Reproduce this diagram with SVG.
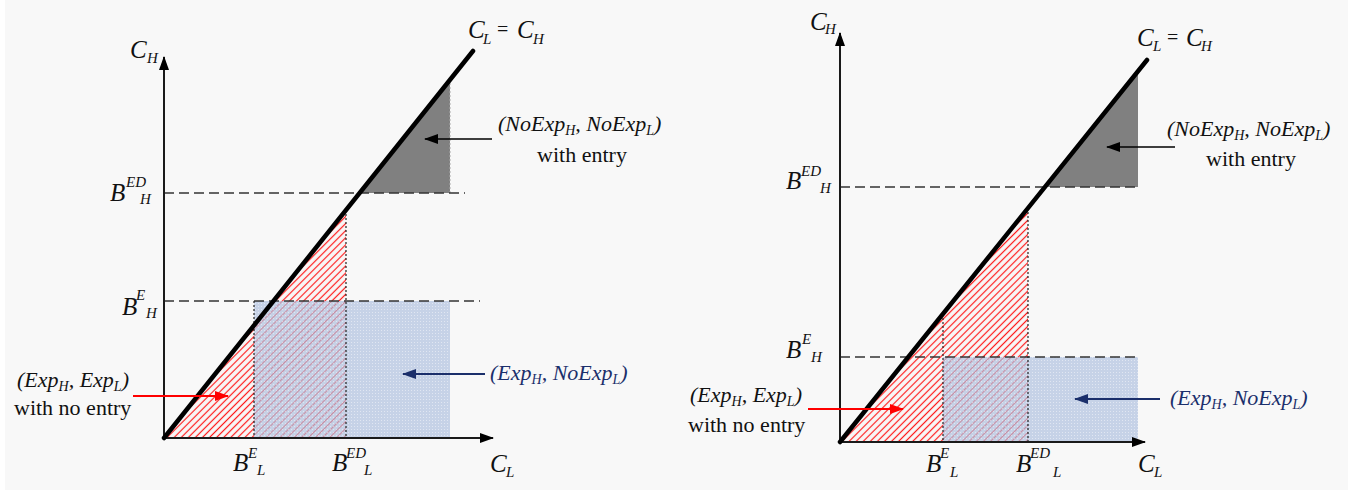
<svg xmlns="http://www.w3.org/2000/svg" width="1366" height="493" viewBox="0 0 1366 493">
<style>
text{font-family:"Liberation Serif","Times New Roman",Times,"DejaVu Serif",serif}
.m{font-style:italic;font-size:25px;fill:#111}
.ms{font-style:italic;font-size:15px;fill:#111}
.eq{font-size:20px;fill:#111}
.lab{font-style:italic;font-size:22px;fill:#111}
.blue{fill:#1b2f6b}
.plain{font-size:22px;fill:#111}
.axis{stroke:#1a1a1a;stroke-width:2;fill:none}
.diag{stroke:#000;stroke-width:4.5;stroke-linecap:round;fill:none}
.dash{stroke:#333;stroke-width:1.6;stroke-dasharray:10,5;fill:none}
.dot{stroke:#222;stroke-width:1.2;stroke-dasharray:2,2;fill:none}
.gray{fill:#808080}
.hatch{fill:url(#hatch)}
.bluebox{fill:#b0c2e0;fill-opacity:0.7}
.tex{fill:url(#dots)}
</style>
<defs>
<pattern id="hatch" patternUnits="userSpaceOnUse" width="5" height="10" patternTransform="rotate(45)">
<line x1="2.5" y1="0" x2="2.5" y2="10" stroke="#ff1a1a" stroke-width="1.2"/>
</pattern>
<pattern id="dots" patternUnits="userSpaceOnUse" width="3" height="3">
<rect x="0" y="0" width="1" height="1" fill="#ffffff" fill-opacity="0.45"/>
</pattern>
<marker id="ak" viewBox="0 0 14 10" refX="13" refY="5" markerWidth="14" markerHeight="10" markerUnits="userSpaceOnUse" orient="auto">
<path d="M0,0 L14,5 L0,10 Z" fill="#000"/>
</marker>
<marker id="ar" viewBox="0 0 14 10" refX="13" refY="5" markerWidth="14" markerHeight="10" markerUnits="userSpaceOnUse" orient="auto">
<path d="M0,0 L14,5 L0,10 Z" fill="#ff0000"/>
</marker>
<marker id="ab" viewBox="0 0 14 10" refX="13" refY="5" markerWidth="14" markerHeight="10" markerUnits="userSpaceOnUse" orient="auto">
<path d="M0,0 L14,5 L0,10 Z" fill="#1b2f6b"/>
</marker>
<marker id="ax" viewBox="0 0 14 10" refX="13" refY="5" markerWidth="14" markerHeight="10" markerUnits="userSpaceOnUse" orient="auto">
<path d="M0,0 L14,5 L0,10 Z" fill="#000"/>
</marker>
</defs>
<rect x="0" y="0" width="1366" height="493" fill="#ffffff"/>
<rect x="5" y="0" width="1343" height="490" fill="#f8f8f8"/>

<g id="left-chart">
<g id="left-regions">
<polygon class="hatch" points="164,438 346,209.6 346,438"/>
<rect class="bluebox" x="254" y="301" width="196" height="137"/>
<rect class="tex" x="254" y="301" width="196" height="137"/>
<polygon class="gray" points="359,193 450,193 450,79"/>
<line x1="450" y1="79" x2="450" y2="193" stroke="#aaa" stroke-width="1" stroke-dasharray="2,2"/>
</g>
<g id="left-guides">
<line class="dash" x1="164" y1="193" x2="465" y2="193"/>
<line class="dash" x1="164" y1="301" x2="480" y2="301"/>
<line class="dot" x1="254" y1="301" x2="254" y2="438"/>
<line class="dot" x1="346" y1="210" x2="346" y2="438"/>
</g>
<g id="left-axes">
<line class="axis" x1="164" y1="438" x2="164" y2="57" marker-end="url(#ax)"/>
<line class="axis" x1="164" y1="438" x2="493" y2="438" marker-end="url(#ax)"/>
<line class="diag" x1="164" y1="438" x2="473" y2="51"/>
</g>
<g id="left-arrows">
<line x1="492" y1="139" x2="425" y2="139" stroke="#000" stroke-width="1.5" marker-end="url(#ak)"/>
<line x1="133" y1="396" x2="228" y2="396" stroke="#ff0000" stroke-width="1.8" marker-end="url(#ar)"/>
<line x1="485" y1="374" x2="403" y2="374" stroke="#1b2f6b" stroke-width="1.8" marker-end="url(#ab)"/>
</g>
<g id="left-labels">
<text class="m" x="130" y="58">C</text><text class="ms" x="147" y="63">H</text>
<text class="m" x="468" y="38">C</text><text class="ms" x="483" y="44">L</text><text class="eq" x="497" y="36">=</text><text class="m" x="517" y="38">C</text><text class="ms" x="533" y="44">H</text>
<text class="m" x="110" y="201">B</text><text class="ms" x="126" y="187">ED</text><text class="ms" x="140" y="204">H</text>
<text class="m" x="122" y="315">B</text><text class="ms" x="136" y="300">E</text><text class="ms" x="146" y="318">H</text>
<text class="m" x="233" y="471">B</text><text class="ms" x="248" y="458">E</text><text class="ms" x="257" y="475">L</text>
<text class="m" x="332" y="471">B</text><text class="ms" x="346" y="458">ED</text><text class="ms" x="364" y="475">L</text>
<text class="m" x="490" y="472">C</text><text class="ms" x="506" y="477">L</text>
<text class="lab" x="498" y="131">(NoExp<tspan font-size="14" dy="4">H</tspan><tspan dy="-4">, NoExp</tspan><tspan font-size="14" dy="4">L</tspan><tspan dy="-4">)</tspan></text>
<text class="plain" x="582" y="162" text-anchor="middle">with entry</text>
<text class="lab" x="17" y="387">(Exp<tspan font-size="14" dy="4">H</tspan><tspan dy="-4">, Exp</tspan><tspan font-size="14" dy="4">L</tspan><tspan dy="-4">)</tspan></text>
<text class="plain" x="14" y="415">with no entry</text>
<text class="lab blue" x="490" y="380">(Exp<tspan font-size="14" dy="4">H</tspan><tspan dy="-4">, NoExp</tspan><tspan font-size="14" dy="4">L</tspan><tspan dy="-4">)</tspan></text>
</g>
</g>

<g id="right-chart">
<g id="right-regions">
<polygon class="hatch" points="840,442 1028,208 1028,442"/>
<rect class="bluebox" x="943" y="357" width="195" height="85"/>
<rect class="tex" x="943" y="357" width="195" height="85"/>
<polygon class="gray" points="1045,187 1138,187 1138,71"/>
</g>
<g id="right-guides">
<line class="dash" x1="840" y1="187" x2="1138" y2="187"/>
<line class="dash" x1="840" y1="357" x2="1140" y2="357"/>
<line class="dot" x1="943" y1="314" x2="943" y2="442"/>
<line class="dot" x1="1028" y1="208" x2="1028" y2="442"/>
</g>
<g id="right-axes">
<line class="axis" x1="840" y1="442" x2="840" y2="33" marker-end="url(#ax)"/>
<line class="axis" x1="840" y1="442" x2="1145" y2="442" marker-end="url(#ax)"/>
<line class="diag" x1="840" y1="442" x2="1147" y2="60"/>
</g>
<g id="right-arrows">
<line x1="1175" y1="147" x2="1107" y2="147" stroke="#000" stroke-width="1.5" marker-end="url(#ak)"/>
<line x1="808" y1="409" x2="903" y2="409" stroke="#ff0000" stroke-width="1.8" marker-end="url(#ar)"/>
<line x1="1160" y1="399" x2="1075" y2="399" stroke="#1b2f6b" stroke-width="1.8" marker-end="url(#ab)"/>
</g>
<g id="right-labels">
<text class="m" x="810" y="30">C</text><text class="ms" x="825" y="34">H</text>
<text class="m" x="1137" y="46">C</text><text class="ms" x="1153" y="51">L</text><text class="eq" x="1167" y="44">=</text><text class="m" x="1186" y="46">C</text><text class="ms" x="1201" y="51">H</text>
<text class="m" x="786" y="189">B</text><text class="ms" x="801" y="176">ED</text><text class="ms" x="820" y="193">H</text>
<text class="m" x="786" y="358">B</text><text class="ms" x="802" y="344">E</text><text class="ms" x="811" y="362">H</text>
<text class="m" x="926" y="472">B</text><text class="ms" x="940" y="458">E</text><text class="ms" x="950" y="477">L</text>
<text class="m" x="1016" y="472">B</text><text class="ms" x="1030" y="458">ED</text><text class="ms" x="1053" y="477">L</text>
<text class="m" x="1138" y="472">C</text><text class="ms" x="1154" y="477">L</text>
<text class="lab" x="1167" y="136">(NoExp<tspan font-size="14" dy="4">H</tspan><tspan dy="-4">, NoExp</tspan><tspan font-size="14" dy="4">L</tspan><tspan dy="-4">)</tspan></text>
<text class="plain" x="1251" y="166" text-anchor="middle">with entry</text>
<text class="lab" x="690" y="402">(Exp<tspan font-size="14" dy="4">H</tspan><tspan dy="-4">, Exp</tspan><tspan font-size="14" dy="4">L</tspan><tspan dy="-4">)</tspan></text>
<text class="plain" x="688" y="432">with no entry</text>
<text class="lab blue" x="1170" y="405">(Exp<tspan font-size="14" dy="4">H</tspan><tspan dy="-4">, NoExp</tspan><tspan font-size="14" dy="4">L</tspan><tspan dy="-4">)</tspan></text>
</g>
</g>
</svg>
